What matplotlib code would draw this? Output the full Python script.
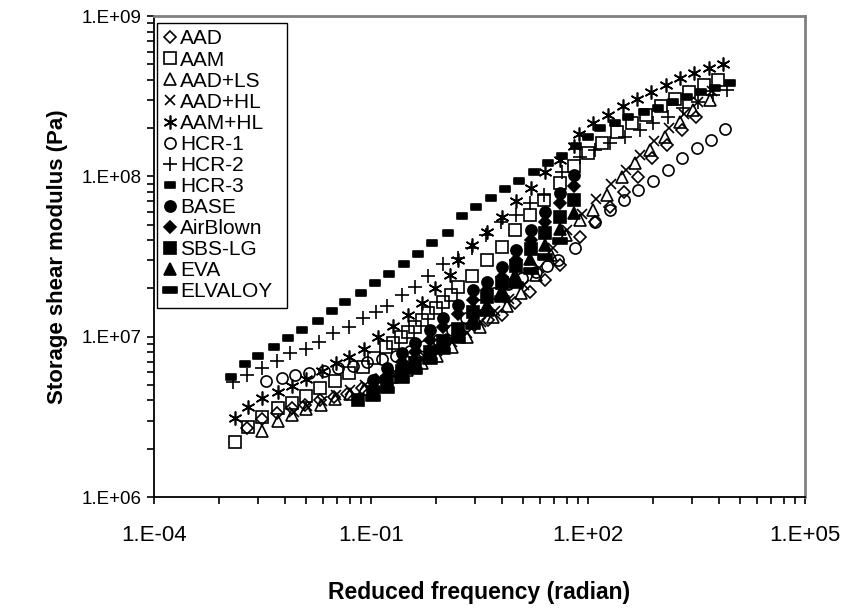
import matplotlib
matplotlib.use("Agg")
import matplotlib.pyplot as plt
from matplotlib.path import Path
from matplotlib.ticker import FixedLocator, FuncFormatter, NullFormatter
import numpy as np

plt.rcParams['font.family'] = ['Liberation Sans', 'DejaVu Sans']

# ---- data (reduced frequency in rad/s, G' in Pa) ----
aad_x = [1.93e-3, 3.1e-3, 5.0e-3, 8.1e-3, 1.22e-2, 1.97e-2, 3.1e-2, 4.7e-2, 7.5e-2, 0.117, 0.183, 0.286,
         0.447, 0.70, 1.09, 1.70, 2.66, 4.15, 6.5, 9.8, 15.8, 25.5, 41, 78, 125, 201, 315, 491, 768, 1239, 1994, 3120]
aad_y = [2.69e6, 3.06e6, 3.34e6, 3.59e6, 3.75e6, 4.03e6, 4.21e6, 4.39e6, 4.78e6, 5.37e6, 5.93e6, 6.65e6,
         7.57e6, 8.5e6, 9.5e6, 1.07e7, 1.18e7, 1.27e7, 1.37e7, 1.62e7, 1.90e7, 2.25e7, 2.80e7, 4.19e7, 5.19e7,
         6.44e7, 7.98e7, 9.9e7, 1.30e8, 1.57e8, 1.94e8, 2.35e8]

aam_x = [1.32e-3, 2.0e-3, 3.1e-3, 5.2e-3, 8.1e-3, 1.26e-2, 2.0e-2, 3.2e-2, 5.0e-2, 7.8e-2, 0.11, 0.161, 0.20,
         0.26, 0.325, 0.406, 0.51, 0.614, 0.79, 0.99, 1.28, 1.6, 2.5, 4.0, 6.5, 9.8, 15.8, 25, 41, 64, 100, 156,
         252, 406, 634, 1023, 1597, 2494, 4020, 6280]
aam_y = [2.2e6, 2.73e6, 3.16e6, 3.59e6, 3.86e6, 4.26e6, 4.8e6, 5.3e6, 5.9e6, 6.5e6, 7.4e6, 8.6e6, 9.1e6,
         1.0e7, 1.07e7, 1.15e7, 1.27e7, 1.41e7, 1.51e7, 1.65e7, 1.82e7, 2.04e7, 2.39e7, 3.0e7, 3.6e7, 4.6e7,
         5.7e7, 7.1e7, 9.1e7, 1.16e8, 1.40e8, 1.61e8, 1.89e8, 2.15e8, 2.41e8, 2.75e8, 3.04e8, 3.36e8, 3.72e8, 3.99e8]

aadls_x = [3.1e-3, 5.2e-3, 8.1e-3, 1.26e-2, 2.04e-2, 3.2e-2, 5.1e-2, 8.0e-2, 0.125, 0.195, 0.315, 0.51, 0.82,
           1.32, 2.12, 3.2, 4.9, 7.6, 11.9, 19.1, 30.8, 49.6, 78, 117, 183, 295, 447, 720, 1161, 1873, 2830, 4860]
aadls_y = [2.58e6, 2.98e6, 3.25e6, 3.54e6, 3.75e6, 4.08e6, 4.39e6, 4.72e6, 5.14e6, 5.6e6, 6.2e6, 6.86e6,
           7.57e6, 8.63e6, 9.96e6, 1.15e7, 1.33e7, 1.55e7, 1.87e7, 2.43e7, 3.23e7, 4.3e7, 5.35e7, 6.17e7,
           7.65e7, 9.9e7, 1.21e8, 1.46e8, 1.76e8, 2.18e8, 2.59e8, 2.99e8]

aadhl_x = [8.5e-3, 1.3e-2, 2.1e-2, 3.3e-2, 5.2e-2, 8.2e-2, 0.13, 0.2, 0.32, 0.52, 0.83, 1.3, 2.1, 3.3, 5.2,
           8.2, 13, 21, 33, 52, 82, 130, 205, 330, 520, 830, 1300, 2100, 3300, 5200]
aadhl_y = [3.4e6, 3.7e6, 3.95e6, 4.3e6, 4.65e6, 5.0e6, 5.45e6, 5.95e6, 6.6e6, 7.3e6, 8.1e6, 9.2e6, 1.06e7,
           1.24e7, 1.45e7, 1.72e7, 2.1e7, 2.7e7, 3.55e7, 4.6e7, 5.8e7, 7.2e7, 8.9e7, 1.1e8, 1.35e8, 1.65e8,
           2.0e8, 2.45e8, 2.9e8, 3.4e8]

aamhl_x = [1.32e-3, 2.0e-3, 3.1e-3, 5.2e-3, 8.1e-3, 1.26e-2, 2.1e-2, 3.3e-2, 5.0e-2, 8.0e-2, 0.125, 0.20,
           0.325, 0.51, 0.77, 1.24, 1.6, 2.5, 4.0, 6.5, 10.1, 16.3, 25.5, 41, 64, 75, 117, 189, 305, 476, 743,
           1199, 1873, 2925, 4710, 7360]
aamhl_y = [3.11e6, 3.64e6, 4.14e6, 4.51e6, 4.92e6, 5.45e6, 6.1e6, 6.9e6, 7.5e6, 8.4e6, 9.96e6, 1.17e7,
           1.37e7, 1.62e7, 2.01e7, 2.43e7, 3.0e7, 3.73e7, 4.5e7, 5.6e7, 7.0e7, 8.5e7, 1.06e8, 1.27e8, 1.55e8,
           1.84e8, 2.15e8, 2.41e8, 2.75e8, 3.04e8, 3.36e8, 3.72e8, 4.1e8, 4.41e8, 4.75e8, 5.02e8]

hcr1_x = [3.5e-3, 5.9e-3, 8.9e-3, 1.39e-2, 2.24e-2, 3.5e-2, 5.6e-2, 8.8e-2, 0.142, 0.222, 0.346, 0.54, 0.84,
          1.32, 2.06, 3.2, 5.0, 7.8, 12.2, 19.1, 27, 38.5, 66, 125, 201, 315, 491, 792, 1277, 1994, 3210, 5020,
          7830]
hcr1_y = [5.3e6, 5.52e6, 5.77e6, 5.93e6, 6.11e6, 6.38e6, 6.56e6, 6.95e6, 7.26e6, 7.57e6, 8.15e6, 8.75e6,
          9.5e6, 1.10e7, 1.31e7, 1.58e7, 1.87e7, 2.13e7, 2.32e7, 2.53e7, 2.76e7, 3.0e7, 3.57e7, 5.19e7,
          6.17e7, 7.12e7, 8.2e7, 9.35e7, 1.10e8, 1.30e8, 1.50e8, 1.69e8, 1.97e8]

hcr2_x = [1.24e-3, 1.93e-3, 3.1e-3, 5.0e-3, 7.6e-3, 1.26e-2, 1.9e-2, 3.0e-2, 5.0e-2, 7.8e-2, 0.117, 0.166,
          0.268, 0.406, 0.614, 0.99, 1.6, 2.5, 3.9, 6.3, 10.1, 15.8, 25, 44, 78, 125, 201, 325, 524, 792, 1277,
          2060, 3320, 5350, 8350]
hcr2_y = [5.2e6, 5.8e6, 6.4e6, 7.1e6, 7.9e6, 8.4e6, 9.3e6, 1.05e7, 1.15e7, 1.31e7, 1.42e7, 1.55e7, 1.82e7,
          2.04e7, 2.39e7, 2.84e7, 3.1e7, 3.57e7, 4.3e7, 5.2e7, 5.7e7, 6.8e7, 7.7e7, 1.06e8, 1.32e8, 1.46e8,
          1.61e8, 1.76e8, 1.94e8, 2.15e8, 2.35e8, 2.67e8, 2.91e8, 3.22e8, 3.47e8]

hcr3_x = [1.16e-3, 1.8e-3, 2.7e-3, 4.6e-3, 7.1e-3, 1.1e-2, 1.85e-2, 2.9e-2, 4.4e-2, 7.3e-2, 0.114, 0.177,
          0.286, 0.447, 0.698, 1.16, 1.81, 2.83, 4.56, 7.1, 11.1, 17.9, 28, 43.7, 68, 100, 147, 236, 357, 594,
          929, 1496, 2338, 3656, 5707, 9200]
hcr3_y = [5.6e6, 6.8e6, 7.6e6, 8.6e6, 9.8e6, 1.1e7, 1.25e7, 1.45e7, 1.64e7, 1.87e7, 2.16e7, 2.46e7, 2.84e7,
          3.28e7, 3.84e7, 4.43e7, 5.66e7, 6.45e7, 7.3e7, 8.3e7, 9.4e7, 1.06e8, 1.21e8, 1.34e8, 1.55e8, 1.76e8,
          2.0e8, 2.15e8, 2.35e8, 2.52e8, 2.67e8, 2.91e8, 3.13e8, 3.36e8, 3.56e8, 3.82e8]

base_x = [0.107, 0.166, 0.268, 0.406, 0.655, 0.99, 1.6, 2.57, 4.0, 6.5, 10.1, 16.3, 25.5, 41, 64]
base_y = [5.4e6, 6.4e6, 7.9e6, 9.1e6, 1.10e7, 1.31e7, 1.58e7, 1.96e7, 2.19e7, 2.72e7, 3.47e7, 4.63e7,
          6.0e7, 7.9e7, 1.02e8]

air_x = [0.107, 0.166, 0.268, 0.406, 0.655, 0.99, 1.6, 2.57, 4.0, 6.5, 10.1, 16.3, 25.5, 41, 64]
air_y = [4.79e6, 5.69e6, 6.95e6, 8.0e6, 9.5e6, 1.15e7, 1.38e7, 1.69e7, 1.96e7, 2.36e7, 3.0e7, 4.0e7,
         5.2e7, 6.8e7, 8.7e7]

sbs_x = [0.066, 0.107, 0.166, 0.268, 0.406, 0.655, 0.99, 1.6, 2.57, 4.0, 6.5, 10.1, 16.3, 25.5, 41, 64]
sbs_y = [4.03e6, 4.52e6, 5.21e6, 6.11e6, 6.86e6, 8.02e6, 9.4e6, 1.12e7, 1.43e7, 1.77e7, 2.16e7, 2.76e7,
         3.52e7, 4.44e7, 5.58e7, 7.1e7]

eva_x = [0.166, 0.268, 0.406, 0.655, 0.99, 1.6, 2.57, 4.0, 6.5, 9.8, 15.8, 25.5, 41, 64]
eva_y = [5.0e6, 5.77e6, 6.56e6, 7.57e6, 8.75e6, 1.04e7, 1.31e7, 1.58e7, 1.96e7, 2.43e7, 3.05e7, 3.73e7,
         4.7e7, 5.9e7]

elv_x = [0.107, 0.166, 0.268, 0.406, 0.655, 0.99, 1.6, 2.57, 4.0, 6.5, 10.1, 16.3, 25.5, 41]
elv_y = [4.14e6, 4.65e6, 5.37e6, 6.11e6, 7.05e6, 8.15e6, 9.5e6, 1.17e7, 1.41e7, 1.72e7, 2.1e7, 2.57e7,
         3.14e7, 3.95e7]

# marker shapes
short_bar = Path([(-1, -0.55), (1, -0.55), (1, 0.55), (-1, 0.55), (-1, -0.55)],
                 [Path.MOVETO, Path.LINETO, Path.LINETO, Path.LINETO, Path.CLOSEPOLY])
long_bar = Path([(-1, -0.4), (1, -0.4), (1, 0.4), (-1, 0.4), (-1, -0.4)],
                [Path.MOVETO, Path.LINETO, Path.LINETO, Path.LINETO, Path.CLOSEPOLY])

series = [
  ("AAD", aad_x, aad_y, dict(marker='D', ms=6, mfc='none')),
  ("AAM", aam_x, aam_y, dict(marker='s', ms=8, mfc='none')),
  ("AAD+LS", aadls_x, aadls_y, dict(marker='^', ms=8, mfc='none')),
  ("AAD+HL", aadhl_x, aadhl_y, dict(marker='x', ms=7.5)),
  ("AAM+HL", aamhl_x, aamhl_y, dict(marker=(6, 2, 0), ms=10)),
  ("HCR-1", hcr1_x, hcr1_y, dict(marker='o', ms=8, mfc='none')),
  ("HCR-2", hcr2_x, hcr2_y, dict(marker='+', ms=10)),
  ("HCR-3", hcr3_x, hcr3_y, dict(marker=short_bar, ms=7)),
  ("BASE", base_x, base_y, dict(marker='o', ms=8)),
  ("AirBlown", air_x, air_y, dict(marker='D', ms=6.5)),
  ("SBS-LG", sbs_x, sbs_y, dict(marker='s', ms=8)),
  ("EVA", eva_x, eva_y, dict(marker='^', ms=8.5)),
  ("ELVALOY", elv_x, elv_y, dict(marker=long_bar, ms=9.5)),
]

fig = plt.figure(figsize=(8.49, 6.12), dpi=100)
ax = fig.add_axes([154 / 849, 1 - 497 / 612, 651 / 849, 481 / 612])

for name, xs, ys, style in series:
  ax.plot(xs, ys, linestyle='none', color='black', mec='black', mew=1.2, label=name, **style)

ax.set_xscale('log')
ax.set_yscale('log')
ax.set_xlim(1e-4, 1e5)
ax.set_ylim(1e6, 1e9)

# Excel-style log axis: x major every 3 decades, minors at base*k^3
x_major = [1e-4, 1e-1, 1e2, 1e5]
x_minor = [b * k ** 3 for b in x_major[:-1] for k in range(2, 10)]
ax.xaxis.set_major_locator(FixedLocator(x_major))
ax.xaxis.set_minor_locator(FixedLocator(x_minor))
ax.xaxis.set_minor_formatter(NullFormatter())

y_major = [1e6, 1e7, 1e8, 1e9]
y_minor = [b * k for b in y_major[:-1] for k in range(2, 10)]
ax.yaxis.set_major_locator(FixedLocator(y_major))
ax.yaxis.set_minor_locator(FixedLocator(y_minor))
ax.yaxis.set_minor_formatter(NullFormatter())

fmt = FuncFormatter(lambda v, pos: f"1.E{int(round(np.log10(v))):+03d}")
ax.xaxis.set_major_formatter(fmt)
ax.yaxis.set_major_formatter(fmt)

ax.tick_params(which='both', direction='out', length=5, width=1.2, colors='black')
ax.tick_params(axis='x', which='major', pad=15, labelsize=16)
ax.tick_params(axis='y', which='major', pad=4, labelsize=13.5)

for side in ['left', 'bottom']:
  ax.spines[side].set_color('black')
  ax.spines[side].set_linewidth(1.3)
for side in ['top', 'right']:
  ax.spines[side].set_color('#808080')
  ax.spines[side].set_linewidth(2)

ax.set_xlabel("Reduced frequency (radian)", fontsize=16.5, fontweight='bold', labelpad=25)
ax.set_ylabel("Storage shear modulus (Pa)", fontsize=16, fontweight='bold', labelpad=10)

leg = ax.legend(loc='upper left', bbox_to_anchor=(0.005, 0.985, 0.2, 0.0), mode='expand',
                fontsize=15, frameon=True, fancybox=False, edgecolor='black', framealpha=1,
                borderpad=0.3, labelspacing=0.1, handlelength=0.6, handletextpad=0.2,
                borderaxespad=0, numpoints=1, markerscale=1.0)
leg.get_frame().set_linewidth(1.0)

plt.savefig("out.png", dpi=100)
